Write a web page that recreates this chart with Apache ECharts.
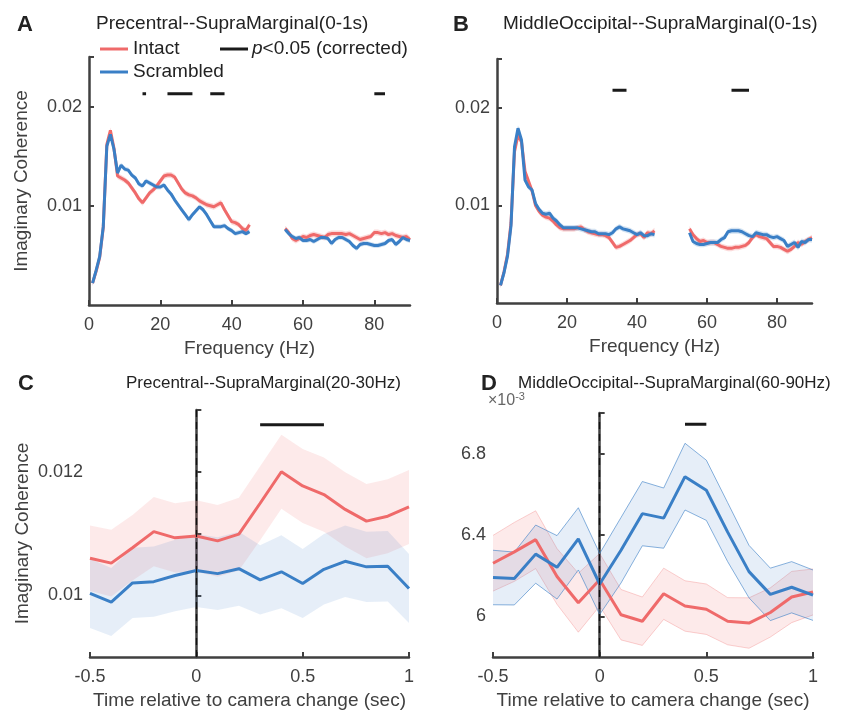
<!DOCTYPE html>
<html>
<head>
<meta charset="utf-8">
<script src="https://cdn.jsdelivr.net/npm/echarts@6/dist/echarts.min.js"></script>
<style>html,body{margin:0;background:#fff}#main{width:856px;height:711px}</style>
</head>
<body>
<div id="main"></div>
<script>
var FONT = 'Liberation Sans, Arial, Helvetica, sans-serif';
var RED = '#ef6a6a', BLUE = '#3a7fc6', INK = '#404040';

// frequency bins (Hz); 46-54 Hz left out
var freqLow = [1,2,3,4,5,6,7,8,9,10,11,12,13,14,15,16,17,18,19,20,21,22,23,24,25,26,27,28,29,30,31,32,33,34,35,36,37,38,39,40,41,42,43,44,45];
var freqHigh = [55,56,57,58,59,60,61,62,63,64,65,66,67,68,69,70,71,72,73,74,75,76,77,78,79,80,81,82,83,84,85,86,87,88,89,90];

// panel A  Precentral--SupraMarginal (0-1s)
var intactA_low = [0.0022,0.0034,0.0048,0.0078,0.0162,0.0176,0.0158,0.0130,0.0128,0.0126,0.0123,0.0118,0.0113,0.0107,0.0103,0.0108,0.0113,0.0116,0.0120,0.0125,0.0130,0.0131,0.0131,0.0129,0.0123,0.0117,0.0113,0.0111,0.0110,0.0108,0.0105,0.0103,0.0101,0.0100,0.0099,0.0101,0.0103,0.0096,0.0090,0.0084,0.0083,0.0081,0.0077,0.0075,0.0081];
var intactA_high = [0.0077,0.0073,0.0067,0.0065,0.0067,0.0069,0.0068,0.0070,0.0071,0.0070,0.0069,0.0068,0.0071,0.0072,0.0072,0.0072,0.0072,0.0071,0.0072,0.0070,0.0068,0.0066,0.0067,0.0068,0.0069,0.0073,0.0073,0.0072,0.0073,0.0071,0.0072,0.0070,0.0069,0.0068,0.0069,0.0066];
var scrA_low = [0.0022,0.0035,0.0049,0.0079,0.0160,0.0172,0.0157,0.0133,0.0141,0.0137,0.0136,0.0131,0.0128,0.0122,0.0120,0.0125,0.0123,0.0121,0.0119,0.0119,0.0121,0.0116,0.0112,0.0106,0.0101,0.0096,0.0091,0.0086,0.0091,0.0095,0.0099,0.0096,0.0091,0.0085,0.0079,0.0079,0.0079,0.0080,0.0077,0.0075,0.0072,0.0073,0.0074,0.0072,0.0074];
var scrA_high = [0.0076,0.0072,0.0069,0.0067,0.0068,0.0065,0.0065,0.0066,0.0064,0.0066,0.0068,0.0068,0.0067,0.0062,0.0066,0.0068,0.0068,0.0066,0.0064,0.0060,0.0057,0.0061,0.0062,0.0062,0.0061,0.0060,0.0060,0.0061,0.0062,0.0065,0.0066,0.0061,0.0064,0.0068,0.0066,0.0065];
var semA = { intact: 0.0003, scrambled: 0.00025 };
var sigA = [[15, 16], [22, 29], [34, 38], [80, 83]];
var sigA_y = 0.0213;

// panel B  MiddleOccipital--SupraMarginal (0-1s)
var intactB_low = [0.0018,0.0032,0.0050,0.0082,0.0155,0.0172,0.0165,0.0135,0.0125,0.0115,0.0100,0.0094,0.0090,0.0088,0.0087,0.0084,0.0080,0.0077,0.0076,0.0076,0.0076,0.0076,0.0077,0.0078,0.0075,0.0073,0.0072,0.0071,0.0070,0.0070,0.0069,0.0067,0.0062,0.0057,0.0058,0.0060,0.0062,0.0064,0.0067,0.0070,0.0071,0.0067,0.0072,0.0071,0.0074];
var intactB_high = [0.0076,0.0070,0.0066,0.0063,0.0064,0.0062,0.0062,0.0062,0.0060,0.0058,0.0057,0.0056,0.0056,0.0057,0.0057,0.0058,0.0059,0.0062,0.0067,0.0070,0.0068,0.0067,0.0066,0.0062,0.0058,0.0058,0.0057,0.0055,0.0053,0.0055,0.0058,0.0062,0.0060,0.0063,0.0065,0.0067];
var scrB_low = [0.0018,0.0031,0.0048,0.0079,0.0160,0.0179,0.0167,0.0126,0.0119,0.0116,0.0102,0.0096,0.0092,0.0091,0.0092,0.0087,0.0084,0.0080,0.0077,0.0077,0.0077,0.0077,0.0077,0.0076,0.0075,0.0074,0.0073,0.0073,0.0071,0.0071,0.0071,0.0070,0.0072,0.0076,0.0078,0.0076,0.0075,0.0074,0.0072,0.0070,0.0072,0.0069,0.0069,0.0071,0.0070];
var scrB_high = [0.0072,0.0063,0.0061,0.0060,0.0060,0.0061,0.0062,0.0062,0.0062,0.0065,0.0067,0.0073,0.0074,0.0074,0.0074,0.0073,0.0071,0.0069,0.0068,0.0072,0.0071,0.0070,0.0070,0.0068,0.0067,0.0068,0.0066,0.0064,0.0058,0.0060,0.0062,0.0057,0.0063,0.0062,0.0065,0.0065];
var semB = { intact: 0.0003, scrambled: 0.0003 };
var sigB = [[33, 37], [67, 72]];
var sigB_y = 0.0218;

// panels C and D: time (s) relative to camera change
var times = [-0.5,-0.4,-0.3,-0.2,-0.1,0,0.1,0.2,0.3,0.4,0.5,0.6,0.7,0.8,0.9,1.0];
var intactC = [0.01060,0.01052,0.01077,0.01103,0.01093,0.01096,0.01088,0.01099,0.01149,0.01200,0.01177,0.01163,0.01139,0.01120,0.01128,0.01143];
var intactC_sem = [0.00053,0.00054,0.00053,0.00056,0.00056,0.00058,0.00058,0.00059,0.00060,0.00060,0.00060,0.00060,0.00060,0.00060,0.00060,0.00060];
var scrC = [0.01003,0.00989,0.01020,0.01022,0.01032,0.01040,0.01035,0.01043,0.01025,0.01038,0.01019,0.01042,0.01055,0.01046,0.01047,0.01011];
var scrC_sem = [0.00056,0.00055,0.00057,0.00057,0.00058,0.00059,0.00059,0.00060,0.00056,0.00059,0.00056,0.00057,0.00058,0.00057,0.00057,0.00056];
var sigC = [[0.3, 0.6]];
var sigC_y = 0.01276;

// panel D values in units of 1e-3
var intactD = [6.261,6.317,6.377,6.196,6.067,6.180,6.008,5.976,6.111,6.051,6.035,5.976,5.967,6.019,6.095,6.120];
var intactD_sem = [0.137,0.145,0.142,0.137,0.145,0.129,0.124,0.119,0.126,0.124,0.124,0.116,0.124,0.121,0.126,0.113];
var scrD = [6.191,6.186,6.306,6.241,6.381,6.159,6.325,6.505,6.483,6.687,6.620,6.414,6.220,6.108,6.143,6.104];
var scrD_sem = [0.134,0.130,0.143,0.156,0.153,0.150,0.161,0.158,0.148,0.164,0.148,0.145,0.129,0.129,0.126,0.124];
var sigD = [[0.4, 0.5]];
var sigD_y = 6.945;

var chart = echarts.init(document.getElementById('main'));

function pairs(xs, ys) {
  return xs.map(function (x, i) { return [x, ys[i]]; });
}
function gapped(segs) {
  var out = [];
  segs.forEach(function (s, k) {
    if (k > 0) out.push([(s[0][0] + out[out.length - 1][0]) / 2, '-']);
    out = out.concat(s);
  });
  return out;
}
function meanLine(idx, data, color, name) {
  return {
    name: name, type: 'line', xAxisIndex: idx, yAxisIndex: idx, data: data,
    showSymbol: false, connectNulls: false, silent: true,
    lineStyle: { color: color, width: 3 }, itemStyle: { color: color }
  };
}
// shaded +-sem band; segs = [{x, m, s}]
function band(idx, segs, fill, edge) {
  return {
    type: 'custom', xAxisIndex: idx, yAxisIndex: idx, silent: true, clip: true,
    data: [[segs[0].x[0], segs[0].m[0]]],
    renderItem: function (params, api) {
      var kids = [];
      segs.forEach(function (seg) {
        var up = [], lo = [];
        seg.x.forEach(function (x, i) {
          var s = Array.isArray(seg.s) ? seg.s[i] : seg.s;
          up.push(api.coord([x, seg.m[i] + s]));
          lo.push(api.coord([x, seg.m[i] - s]));
        });
        kids.push({ type: 'polygon', shape: { points: up.concat(lo.slice().reverse()) }, style: { fill: fill } });
        if (edge) {
          kids.push({ type: 'polyline', shape: { points: up }, style: { stroke: edge, lineWidth: 1, fill: null } });
          kids.push({ type: 'polyline', shape: { points: lo }, style: { stroke: edge, lineWidth: 1, fill: null } });
        }
      });
      return { type: 'group', children: kids };
    }
  };
}
function sigBars(idx, spans, y) {
  var segs = spans.map(function (s) { return [[s[0], y], [s[1], y]]; });
  return {
    type: 'line', xAxisIndex: idx, yAxisIndex: idx, data: gapped(segs),
    showSymbol: false, silent: true, lineStyle: { color: '#1a1a1a', width: 3 }
  };
}
function zeroLine(idx) {
  return {
    type: 'line', xAxisIndex: idx, yAxisIndex: idx, data: [], silent: true,
    markLine: {
      silent: true, symbol: 'none', label: { show: false },
      lineStyle: { color: '#111', type: [7, 5], width: 1.3 },
      data: [{ xAxis: 0 }]
    }
  };
}

var REDFILL = 'rgba(239,106,106,0.14)', BLUEFILL = 'rgba(58,127,198,0.13)';
var REDFILL_AB = 'rgba(239,106,106,0.25)', BLUEFILL_AB = 'rgba(58,127,198,0.22)';

var axisLine = { show: true, lineStyle: { color: INK, width: 2.5 } };
var tick = { show: true, inside: true, length: 5, lineStyle: { color: INK, width: 2 } };
var lab = { color: INK, fontSize: 18, fontFamily: FONT, margin: 11 };
var nameStyle = { color: INK, fontSize: 19, fontFamily: FONT };

function xAx(idx, min, max, ticks, name) {
  return {
    type: 'value', gridIndex: idx, min: min, max: max,
    axisLine: axisLine, splitLine: { show: false },
    axisTick: Object.assign({ customValues: ticks }, tick),
    axisLabel: Object.assign({ customValues: ticks, formatter: function (v) { return String(v); } }, lab),
    name: name, nameLocation: 'middle', nameGap: 34, nameTextStyle: nameStyle
  };
}
function yAx(idx, min, max, ticks, labels, name) {
  return {
    type: 'value', gridIndex: idx, min: min, max: max,
    axisLine: axisLine, splitLine: { show: false },
    axisTick: Object.assign({ customValues: ticks }, tick),
    axisLabel: Object.assign({ customValues: labels.map(function (l) { return l[0]; }),
      formatter: function (v) {
        for (var i = 0; i < labels.length; i++) if (Math.abs(labels[i][0] - v) < 1e-9) return labels[i][1];
        return '';
      } }, lab, { margin: 7 }),
    name: name || '', nameLocation: 'middle', nameGap: 58, nameTextStyle: nameStyle
  };
}

var freqTicks = [0, 20, 40, 60, 80];
var timeTicks = [-0.5, 0, 0.5, 1];

var option = {
  animation: false,
  backgroundColor: '#fff',
  textStyle: { fontFamily: FONT },
  grid: [
    { left: 89, top: 57, width: 321, height: 248 },
    { left: 497, top: 59, width: 315, height: 244 },
    { left: 90, top: 410, width: 319, height: 250 },
    { left: 493, top: 413, width: 320, height: 247 }
  ],
  xAxis: [
    xAx(0, 0, 90, freqTicks, 'Frequency (Hz)'),
    xAx(1, 0, 90, freqTicks, 'Frequency (Hz)'),
    xAx(2, -0.5, 1, timeTicks, 'Time relative to camera change (sec)'),
    xAx(3, -0.5, 1, timeTicks, 'Time relative to camera change (sec)')
  ],
  yAxis: [
    yAx(0, 0, 0.025, [0.01, 0.02, 0.025], [[0.01, '0.01'], [0.02, '0.02']], 'Imaginary Coherence'),
    yAx(1, 0, 0.025, [0.01, 0.02, 0.025], [[0.01, '0.01'], [0.02, '0.02']]),
    yAx(2, 0.009, 0.013, [0.01, 0.011, 0.012, 0.013], [[0.01, '0.01'], [0.012, '0.012']], 'Imaginary Coherence'),
    yAx(3, 5.8, 7.0, [6, 6.4, 6.8, 7.0], [[6, '6'], [6.4, '6.4'], [6.8, '6.8']])
  ],
  title: [
    { text: 'A', left: 12, top: 9, textStyle: { fontSize: 22, fontWeight: 'bold', color: '#222', fontFamily: FONT } },
    { text: 'Precentral--SupraMarginal(0-1s)', left: 91, top: 9, textStyle: { fontSize: 19, fontWeight: 'normal', color: '#222', fontFamily: FONT } },
    { text: 'B', left: 448, top: 9, textStyle: { fontSize: 22, fontWeight: 'bold', color: '#222', fontFamily: FONT } },
    { text: 'MiddleOccipital--SupraMarginal(0-1s)', left: 498, top: 9, textStyle: { fontSize: 19, fontWeight: 'normal', color: '#222', fontFamily: FONT } },
    { text: 'C', left: 13, top: 368, textStyle: { fontSize: 22, fontWeight: 'bold', color: '#222', fontFamily: FONT } },
    { text: 'Precentral--SupraMarginal(20-30Hz)', left: 121, top: 370, textStyle: { fontSize: 17, fontWeight: 'normal', color: '#222', fontFamily: FONT } },
    { text: 'D', left: 476, top: 368, textStyle: { fontSize: 22, fontWeight: 'bold', color: '#222', fontFamily: FONT } },
    { text: 'MiddleOccipital--SupraMarginal(60-90Hz)', left: 513, top: 370, textStyle: { fontSize: 17, fontWeight: 'normal', color: '#222', fontFamily: FONT } }
  ],
  graphic: [
    { type: 'line', shape: { x1: 100, y1: 49, x2: 128, y2: 49 }, style: { stroke: RED, lineWidth: 3 } },
    { type: 'text', left: 133, top: 39, style: { text: 'Intact', font: '19px ' + FONT, fill: '#222' } },
    { type: 'line', shape: { x1: 100, y1: 72, x2: 128, y2: 72 }, style: { stroke: BLUE, lineWidth: 3 } },
    { type: 'text', left: 133, top: 62, style: { text: 'Scrambled', font: '19px ' + FONT, fill: '#222' } },
    { type: 'line', shape: { x1: 220, y1: 49, x2: 248, y2: 49 }, style: { stroke: '#1a1a1a', lineWidth: 3 } },
    { type: 'text', left: 252, top: 39, style: {
      text: '{i|p}<0.05 (corrected)', font: '19px ' + FONT, fill: '#222',
      rich: { i: { fontStyle: 'italic', fontSize: 19, fontFamily: FONT, fill: '#222' } } } },
    { type: 'text', left: 488, top: 391, style: {
      text: '×10{s|-3}', font: '16px ' + FONT, fill: '#666',
      rich: { s: { fontSize: 11, fontFamily: FONT, fill: '#666', verticalAlign: 'top', padding: [0, 0, 8, 0] } } } }
  ],
  series: [
    // A
    band(0, [{ x: freqLow, m: intactA_low, s: semA.intact }, { x: freqHigh, m: intactA_high, s: semA.intact }], REDFILL_AB),
    meanLine(0, gapped([pairs(freqLow, intactA_low), pairs(freqHigh, intactA_high)]), RED, 'Intact'),
    band(0, [{ x: freqLow, m: scrA_low, s: semA.scrambled }, { x: freqHigh, m: scrA_high, s: semA.scrambled }], BLUEFILL_AB),
    meanLine(0, gapped([pairs(freqLow, scrA_low), pairs(freqHigh, scrA_high)]), BLUE, 'Scrambled'),
    sigBars(0, sigA, sigA_y),
    // B
    band(1, [{ x: freqLow, m: intactB_low, s: semB.intact }, { x: freqHigh, m: intactB_high, s: semB.intact }], REDFILL_AB),
    meanLine(1, gapped([pairs(freqLow, intactB_low), pairs(freqHigh, intactB_high)]), RED, 'Intact'),
    band(1, [{ x: freqLow, m: scrB_low, s: semB.scrambled }, { x: freqHigh, m: scrB_high, s: semB.scrambled }], BLUEFILL_AB),
    meanLine(1, gapped([pairs(freqLow, scrB_low), pairs(freqHigh, scrB_high)]), BLUE, 'Scrambled'),
    sigBars(1, sigB, sigB_y),
    // C
    band(2, [{ x: times, m: intactC, s: intactC_sem }], REDFILL),
    meanLine(2, pairs(times, intactC), RED, 'Intact'),
    band(2, [{ x: times, m: scrC, s: scrC_sem }], BLUEFILL),
    meanLine(2, pairs(times, scrC), BLUE, 'Scrambled'),
    sigBars(2, sigC, sigC_y),
    zeroLine(2),
    // D
    band(3, [{ x: times, m: intactD, s: intactD_sem }], REDFILL, 'rgba(239,106,106,0.3)'),
    meanLine(3, pairs(times, intactD), RED, 'Intact'),
    band(3, [{ x: times, m: scrD, s: scrD_sem }], BLUEFILL, 'rgba(58,127,198,0.6)'),
    meanLine(3, pairs(times, scrD), BLUE, 'Scrambled'),
    sigBars(3, sigD, sigD_y),
    zeroLine(3)
  ]
};

chart.setOption(option);
</script>
</body>
</html>
